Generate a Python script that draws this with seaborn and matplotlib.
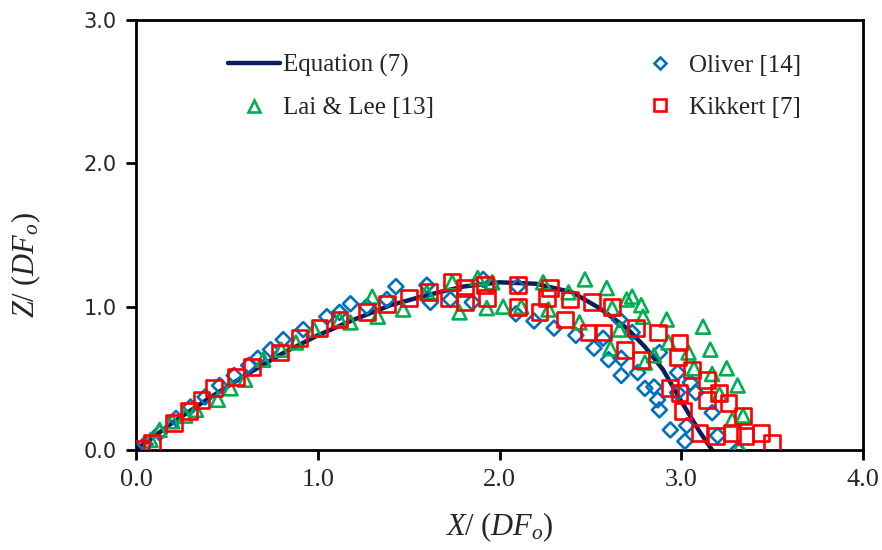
import matplotlib
matplotlib.use("Agg")
import matplotlib.pyplot as plt
import seaborn as sns
from matplotlib.lines import Line2D

# ---------------- data ----------------
eq_x = [0, 0.2, 0.4, 0.6, 0.8, 1.0, 1.2, 1.4, 1.6, 1.8, 2.0, 2.2, 2.4, 2.55, 2.7, 2.8, 2.9, 3.0, 3.1, 3.17]
eq_z = [0, 0.19, 0.36, 0.52, 0.67, 0.80, 0.91, 1.01, 1.08, 1.14, 1.17, 1.16, 1.10, 0.99, 0.85, 0.72, 0.56, 0.34, 0.13, 0.0]

oliver_x = [0.05, 0.13, 0.22, 0.30, 0.38, 0.46, 0.54, 0.62, 0.67, 0.74, 0.81, 0.92, 1.05, 1.12, 1.18, 1.27,
            1.38, 1.43, 1.60, 1.62, 1.73, 1.85, 1.91, 1.95, 2.10, 2.09, 2.19, 2.30, 2.42, 2.52, 2.60,
            2.66, 2.57, 2.67, 2.67, 2.73, 2.76, 2.80, 2.85, 2.88, 2.87, 2.88, 2.98, 2.98, 3.05, 3.08,
            3.03, 2.94, 3.02, 3.17, 3.20, 3.31]
oliver_z = [0.04, 0.12, 0.22, 0.30, 0.37, 0.45, 0.52, 0.59, 0.64, 0.70, 0.77, 0.84, 0.93, 0.96, 1.02, 1.00,
            1.05, 1.14, 1.15, 1.03, 1.05, 1.03, 1.19, 1.15, 1.14, 0.95, 0.90, 0.85, 0.80, 0.71, 0.63,
            0.91, 0.78, 0.64, 0.52, 0.82, 0.54, 0.43, 0.44, 0.68, 0.35, 0.28, 0.54, 0.40, 0.47, 0.40,
            0.17, 0.14, 0.06, 0.26, 0.10, 0.0]

lai_x = [0.08, 0.13, 0.20, 0.27, 0.33, 0.45, 0.52, 0.60, 0.70, 0.80, 0.88, 0.98, 1.12, 1.18, 1.30, 1.33,
         1.47, 1.60, 1.74, 1.78, 1.88, 1.96, 1.93, 2.02, 2.12, 2.24, 2.27, 2.38, 2.47, 2.44, 2.59,
         2.61, 2.66, 2.70, 2.62, 2.73, 2.78, 2.79, 2.80, 2.85, 2.92, 2.93, 3.04, 3.07, 3.12, 3.16,
         3.17, 3.21, 3.25, 3.31, 3.34, 3.28, 3.32]
lai_z = [0.07, 0.14, 0.20, 0.24, 0.28, 0.35, 0.43, 0.49, 0.63, 0.70, 0.75, 0.84, 0.91, 0.89, 1.07, 0.93,
         0.98, 1.10, 1.17, 0.96, 1.20, 1.17, 0.99, 1.00, 1.00, 1.17, 0.98, 1.10, 1.19, 0.89, 1.13,
         0.71, 0.84, 1.05, 0.99, 1.07, 1.01, 0.93, 0.61, 0.66, 0.91, 0.75, 0.68, 0.57, 0.86, 0.70,
         0.53, 0.39, 0.57, 0.45, 0.24, 0.21, 0.02]

kik_x = [0.03, 0.09, 0.21, 0.29, 0.36, 0.43, 0.55, 0.64, 0.79, 0.90, 1.01, 1.12, 1.27, 1.38, 1.50, 1.61,
         1.72, 1.74, 1.81, 1.81, 1.92, 1.93, 2.10, 2.10, 2.22, 2.26, 2.28, 2.39, 2.36, 2.51, 2.49,
         2.57, 2.62, 2.69, 2.75, 2.78, 2.87, 2.99, 2.98, 3.06, 2.94, 2.99, 3.14, 3.14, 3.01, 3.21,
         3.26, 3.34, 3.10, 3.19, 3.28, 3.35, 3.44, 3.50]
kik_z = [0.01, 0.05, 0.19, 0.27, 0.35, 0.43, 0.51, 0.58, 0.68, 0.78, 0.85, 0.91, 0.96, 1.02, 1.06, 1.10,
         1.06, 1.17, 1.13, 1.03, 1.15, 1.06, 1.15, 1.00, 0.96, 1.06, 1.13, 1.05, 0.91, 1.03, 0.82,
         0.82, 1.00, 0.70, 0.85, 0.63, 0.82, 0.75, 0.65, 0.56, 0.43, 0.40, 0.49, 0.35, 0.27, 0.40,
         0.33, 0.24, 0.12, 0.10, 0.12, 0.10, 0.12, 0.05]

x_ticks = [0.0, 1.0, 2.0, 3.0, 4.0]
y_ticks = [0.0, 1.0, 2.0, 3.0]

labels = ["Equation (7)", "Lai & Lee [13]", "Oliver [14]", "Kikkert [7]"]

# ---------------- style ----------------
sns.set_theme(style="ticks")
plt.rcParams["font.family"] = ["Liberation Serif", "DejaVu Serif"]
plt.rcParams["mathtext.fontset"] = "custom"
plt.rcParams["mathtext.rm"] = "Liberation Serif"
plt.rcParams["mathtext.it"] = "Liberation Serif:italic"

C_EQ = "#0b1f5c"
C_OL = "#0070C0"
C_LAI = "#00B050"
C_KIK = "#FF0000"

fig = plt.figure(figsize=(8.82, 5.5), dpi=100)
ax = fig.add_axes([136 / 882, 1 - 450 / 550, 727 / 882, 430 / 550])

sns.lineplot(x=eq_x, y=eq_z, ax=ax, color=C_EQ, linewidth=3.2, sort=False, zorder=2)
sns.scatterplot(x=oliver_x, y=oliver_z, ax=ax, marker="D", s=58, facecolor="none",
                edgecolor=C_OL, linewidth=1.9, zorder=3)
sns.scatterplot(x=lai_x, y=lai_z, ax=ax, marker="^", s=100, facecolor="none",
                edgecolor=C_LAI, linewidth=1.9, zorder=3)
sns.scatterplot(x=kik_x, y=kik_z, ax=ax, marker="s", s=130, facecolor="none",
                edgecolor=C_KIK, linewidth=1.9, zorder=4)

ax.set_xlim(0, 4)
ax.set_ylim(0, 3)
ax.set_xticks(x_ticks)
ax.set_yticks(y_ticks)
ax.set_xticklabels([f"{v:.1f}" for v in x_ticks], fontsize=19, family="Liberation Serif")
ax.set_yticklabels([f"{v:.1f}" for v in y_ticks], fontsize=15, family="DejaVu Sans")
for s in ax.spines.values():
    s.set_visible(True)
    s.set_linewidth(2)
    s.set_color("black")
ax.tick_params(axis="both", direction="out", length=7, width=2, color="black", pad=7)

ax.set_xlabel(r"$X/\ (DF_o)$", fontsize=22, labelpad=14)
ax.set_ylabel(r"$Z/\ (DF_o)$", fontsize=22)
ax.yaxis.set_label_coords(-0.128, 0.43)

h_eq = Line2D([], [], color=C_EQ, linewidth=3.2)
h_lai = Line2D([], [], linestyle="none", marker="^", markersize=8, markerfacecolor="none",
               markeredgecolor=C_LAI, markeredgewidth=1.9)
h_ol = Line2D([], [], linestyle="none", marker="D", markersize=6, markerfacecolor="none",
              markeredgecolor=C_OL, markeredgewidth=1.9)
h_kik = Line2D([], [], linestyle="none", marker="s", markersize=8, markerfacecolor="none",
               markeredgecolor=C_KIK, markeredgewidth=1.9)

leg_kw = dict(loc="upper left", frameon=False, fontsize=18, handlelength=2.1,
              handletextpad=0.12, labelspacing=0.78, borderpad=0, borderaxespad=0)
leg1 = ax.legend([h_eq, h_lai], labels[:2], bbox_to_anchor=(0.126, 0.92), **leg_kw)
ax.add_artist(leg1)
ax.legend([h_ol, h_kik], labels[2:], bbox_to_anchor=(0.685, 0.92), **leg_kw)

fig.savefig("out.png", dpi=100)
